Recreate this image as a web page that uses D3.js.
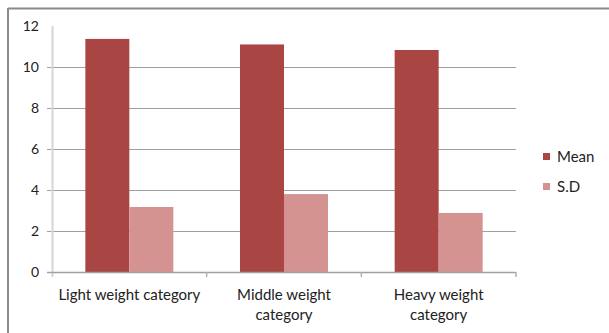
<!DOCTYPE html>
<html><head><meta charset="utf-8">
<script src="https://cdn.jsdelivr.net/npm/d3@7"></script>
<style>html,body{margin:0;padding:0;background:#fff;}svg{display:block;}</style>
</head><body>
<svg id="chart" width="609" height="333"></svg>
<script>
const categories = [["Light weight category"], ["Middle weight", "category"], ["Heavy weight", "category"]];
const seriesNames = ["Mean", "S.D"];
const meanValues = [11.37, 11.1, 10.83];
const sdValues = [3.17, 3.8, 2.88];
const yTicks = [0, 2, 4, 6, 8, 10, 12];
const colors = ["#A94643", "#D49291"];

(function () {
const svg = d3.select("#chart");
const font = "Lato, 'Open Sans', sans-serif";

// outer frame (top and left edges)
svg.append("line").attr("x1", 8).attr("x2", 609).attr("y1", 8.5).attr("y2", 8.5)
  .attr("stroke", "#8a8a8a").attr("stroke-width", 2);
svg.append("line").attr("x1", 8).attr("x2", 8).attr("y1", 8).attr("y2", 333)
  .attr("stroke", "#8a8a8a").attr("stroke-width", 2);

const pL = 52, pR = 516, pT = 26, pB = 272;
const x = d3.scaleBand().domain(d3.range(categories.length)).range([pL, pR]).paddingInner(0).paddingOuter(0);
const y = d3.scaleLinear().domain([0, 12]).range([pB, pT]);

// gridlines
svg.append("g").selectAll("line").data(yTicks.filter(t => t > 0 && t < 12)).join("line")
  .attr("x1", pL - 5).attr("x2", pR)
  .attr("y1", d => Math.round(y(d)) + 0.5).attr("y2", d => Math.round(y(d)) + 0.5)
  .attr("stroke", "#a0a0a0").attr("stroke-width", 1);

// y axis line
svg.append("line").attr("x1", pL + 0.5).attr("x2", pL + 0.5).attr("y1", y(12)).attr("y2", pB + 5)
  .attr("stroke", "#d4d4d4").attr("stroke-width", 2);

// y tick labels
svg.append("g").selectAll("text").data(yTicks).join("text")
  .attr("x", 39).attr("y", d => y(d)).attr("dy", "0.35em")
  .attr("text-anchor", "end").attr("font-family", font).attr("font-size", 14).attr("fill", "#222")
  .text(d => d);

// bars
const inner = d3.scaleBand().domain(d3.range(2)).range([0, 88]);
const groupOffset = (x.bandwidth() - 88) / 2;
const allSeries = [meanValues, sdValues];
allSeries.forEach((vals, si) => {
  svg.append("g").selectAll("rect").data(vals).join("rect")
    .attr("x", (d, i) => x(i) + groupOffset + inner(si))
    .attr("width", inner.bandwidth())
    .attr("y", d => y(d))
    .attr("height", d => pB - y(d))
    .attr("fill", colors[si]);
});

// x axis line & ticks
svg.append("line").attr("x1", pL - 5).attr("x2", pR).attr("y1", pB + 0.5).attr("y2", pB + 0.5)
  .attr("stroke", "#a0a0a0").attr("stroke-width", 1.5);
svg.append("g").selectAll("line").data(d3.range(1, categories.length + 1)).join("line")
  .attr("x1", i => x(0) + i * x.bandwidth()).attr("x2", i => x(0) + i * x.bandwidth())
  .attr("y1", pB).attr("y2", pB + 5)
  .attr("stroke", "#b0b0b0").attr("stroke-width", 1.5);

// x labels
const xl = svg.append("g").selectAll("text").data(categories).join("text")
  .attr("text-anchor", "middle").attr("font-family", font).attr("font-size", 15).attr("fill", "#222")
  .attr("transform", (d, i) => `translate(${x(i) + x.bandwidth() / 2},${300})`);
xl.selectAll("tspan").data(d => d).join("tspan")
  .attr("x", 0).attr("dy", (d, j) => j === 0 ? 0 : 20).text(d => d);

// legend
const lg = svg.append("g").selectAll("g").data(seriesNames).join("g")
  .attr("transform", (d, i) => `translate(543,${153 + i * 30})`);
lg.append("rect").attr("width", 7).attr("height", 7).attr("fill", (d, i) => colors[i]);
lg.append("text").attr("x", 14).attr("y", 3.5).attr("dy", "0.35em")
  .attr("font-family", font).attr("font-size", 15).attr("fill", "#222").text(d => d);
})();
</script>
</body></html>
